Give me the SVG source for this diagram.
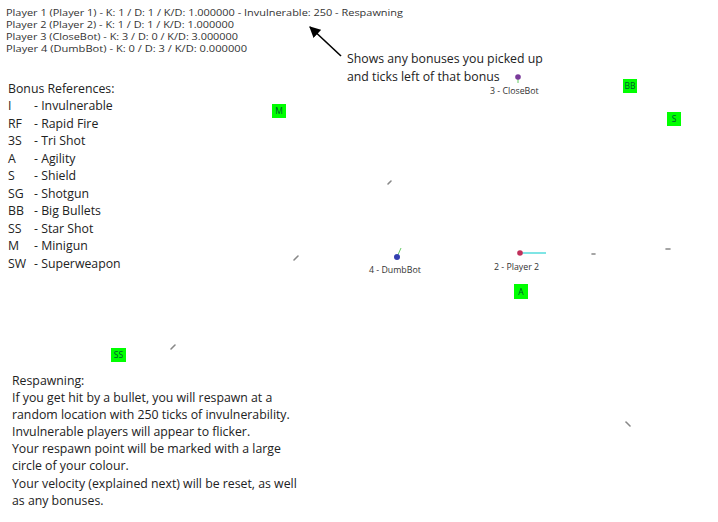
<svg xmlns="http://www.w3.org/2000/svg" width="718" height="522" viewBox="0 0 718 522">
<defs>
<marker id="ah" viewBox="0 0 10 10" refX="9" refY="5" markerWidth="7" markerHeight="7" orient="auto"><path d="M0,0 L10,5 L0,10 z" fill="#000"/></marker>
</defs>
<style>
.hdr{font-family:"Open Sans","DejaVu Sans",sans-serif;font-size:9.5px;fill:#333}
.txt{font-family:"Open Sans","Noto Sans",sans-serif;font-size:12.3px;fill:#222}
.lbl{font-family:"Open Sans","DejaVu Sans",sans-serif;font-size:8.8px;fill:#333}
.box{fill:#00ff00}
.bt{font-family:"Open Sans",sans-serif;font-size:8.5px;fill:#053;text-anchor:middle}
.bul{stroke:#888;stroke-width:1.6;stroke-linecap:round}
</style>
<rect width="718" height="522" fill="#fff"/>
<g id="scoreboard">
<text class="hdr" x="6" y="16" textLength="397" lengthAdjust="spacingAndGlyphs">Player 1 (Player 1) - K: 1 / D: 1 / K/D: 1.000000 - Invulnerable: 250 - Respawning</text>
<text class="hdr" x="6" y="28" textLength="228" lengthAdjust="spacingAndGlyphs">Player 2 (Player 2) - K: 1 / D: 1 / K/D: 1.000000</text>
<text class="hdr" x="6" y="40" textLength="232" lengthAdjust="spacingAndGlyphs">Player 3 (CloseBot) - K: 3 / D: 0 / K/D: 3.000000</text>
<text class="hdr" x="6" y="52" textLength="241" lengthAdjust="spacingAndGlyphs">Player 4 (DumbBot) - K: 0 / D: 3 / K/D: 0.000000</text>
</g>
<g id="connectors">
<line x1="341" y1="56" x2="310" y2="27" stroke="#000" stroke-width="1.6" marker-end="url(#ah)"/>
</g>
<g id="note">
<text class="txt" x="347" y="63">Shows any bonuses you picked up</text>
<text class="txt" x="347" y="81">and ticks left of that bonus</text>
</g>
<g id="legend">
<text class="txt" x="8" y="93">Bonus References:</text>
<text class="txt" x="8" y="110">I</text><text class="txt" x="34" y="110">- Invulnerable</text>
<text class="txt" x="8" y="128">RF</text><text class="txt" x="34" y="128">- Rapid Fire</text>
<text class="txt" x="8" y="145">3S</text><text class="txt" x="34" y="145">- Tri Shot</text>
<text class="txt" x="8" y="163">A</text><text class="txt" x="34" y="163">- Agility</text>
<text class="txt" x="8" y="180">S</text><text class="txt" x="34" y="180">- Shield</text>
<text class="txt" x="8" y="198">SG</text><text class="txt" x="34" y="198">- Shotgun</text>
<text class="txt" x="8" y="215">BB</text><text class="txt" x="34" y="215">- Big Bullets</text>
<text class="txt" x="8" y="233">SS</text><text class="txt" x="34" y="233">- Star Shot</text>
<text class="txt" x="8" y="250">M</text><text class="txt" x="34" y="250">- Minigun</text>
<text class="txt" x="8" y="268">SW</text><text class="txt" x="34" y="268">- Superweapon</text>
</g>
<g id="respawn-info">
<text class="txt" x="12" y="385">Respawning:</text>
<text class="txt" x="12" y="402">If you get hit by a bullet, you will respawn at a</text>
<text class="txt" x="12" y="419">random location with 250 ticks of invulnerability.</text>
<text class="txt" x="12" y="436">Invulnerable players will appear to flicker.</text>
<text class="txt" x="12" y="453">Your respawn point will be marked with a large</text>
<text class="txt" x="12" y="470">circle of your colour.</text>
<text class="txt" x="12" y="488">Your velocity (explained next) will be reset, as well</text>
<text class="txt" x="12" y="505">as any bonuses.</text>
</g>
<g id="bonus-M"><rect class="box" x="272" y="104" width="14" height="14"/><text class="bt" x="279" y="114">M</text></g>
<g id="bonus-BB"><rect class="box" x="623" y="79" width="14" height="14"/><text class="bt" x="630" y="89">BB</text></g>
<g id="bonus-S"><rect class="box" x="667" y="112" width="14" height="14"/><text class="bt" x="674" y="122">S</text></g>
<g id="bonus-A"><rect class="box" x="514" y="284" width="14" height="15"/><text class="bt" x="521" y="295">A</text></g>
<g id="bonus-SS"><rect class="box" x="111" y="348" width="15" height="14"/><text class="bt" x="118.5" y="358">SS</text></g>
<g id="player-3">
<line x1="518" y1="77" x2="518" y2="83" stroke="#6c6" stroke-width="1"/>
<circle cx="518" cy="77" r="2.8" fill="#7a3a9a"/>
<text class="lbl" x="490" y="94">3 - CloseBot</text>
</g>
<g id="player-4">
<line x1="397" y1="257" x2="401" y2="248" stroke="#6c6" stroke-width="1"/>
<circle cx="397" cy="257" r="3" fill="#3340b0"/>
<text class="lbl" x="369" y="273">4 - DumbBot</text>
</g>
<g id="player-2">
<line x1="520" y1="253" x2="546" y2="253" stroke="#5dd" stroke-width="1.5"/>
<circle cx="520" cy="253" r="2.8" fill="#c0305a"/>
<text class="lbl" x="494" y="270">2 - Player 2</text>
</g>
<g id="bullets">
<line class="bul" x1="388" y1="184" x2="391" y2="181"/>
<line class="bul" x1="294" y1="260" x2="298" y2="256"/>
<line class="bul" x1="171" y1="349" x2="175" y2="345"/>
<line class="bul" x1="592" y1="254" x2="595" y2="254"/>
<line class="bul" x1="666" y1="249" x2="670" y2="249"/>
<line class="bul" x1="626" y1="422" x2="630" y2="426"/>
</g>
</svg>
